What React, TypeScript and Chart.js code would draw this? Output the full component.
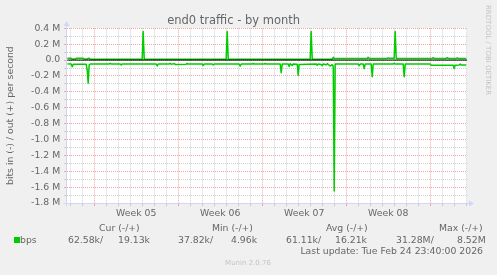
import React, { useEffect, useRef } from 'react';
import { Chart, registerables } from 'chart.js';

Chart.register(...registerables);

// ---------- text ----------
const chartTitle = 'end0 traffic - by month';
const yAxisTitle = 'bits in (-) / out (+) per second';
const weekLabels = ['Week 05', 'Week 06', 'Week 07', 'Week 08'];
const seriesName = 'bps';
const legendHeaders = ['Cur (-/+)', 'Min (-/+)', 'Avg (-/+)', 'Max (-/+)'];
const legendValues = ['62.58k/', '19.13k', '37.82k/', '4.96k', '61.11k/', '16.21k', '31.28M/', '8.52M'];
const lastUpdate = 'Last update: Tue Feb 24 23:40:00 2026';
const footer = 'Munin 2.0.76';
const watermark = 'RRDTOOL / TOBI OETIKER';

// ---------- axes (x in days from the first day grid line) ----------
const xMinDay = -0.25;
const xMaxDay = 33.083;
const weekStartDays = [2, 9, 16, 23, 30];
const weekLabelDays = [5.5, 12.5, 19.5, 26.5];
const yMinBps = -1800000;
const yMaxBps = 400000;
const yStepBps = 100000;

// ---------- series: out (+) ----------
const outDays = [
  -0.25, 0.08, 0.17, 0.42, 0.5, 1.08, 1.17, 1.42, 1.5, 1.58, 1.67,
  6.0, 6.08, 6.17, 13.0, 13.08, 13.17, 20.0, 20.08, 20.17,
  21.83, 21.92, 22.0, 24.75, 24.83, 24.92, 26.42, 26.5, 26.58,
  27.0, 27.08, 27.17, 30.17, 30.25, 30.33, 31.33, 31.42, 31.5,
  32.17, 32.25, 32.33, 33.0,
];
const outKbps = [
  22, 22, 12, 12, 22, 22, 12, 12, 22, 22, 9,
  9, 360, 9, 9, 360, 9, 9, 360, 9,
  10, 35, 20, 20, 34, 20, 20, 28, 22,
  22, 360, 21, 21, 30, 21, 21, 30, 21,
  21, 28, 21, 19.13,
];

// ---------- series: in (-) ----------
const inDays = [
  -0.25, 0.08, 0.17, 0.25, 1.33, 1.42, 1.5, 1.58, 1.67,
  3.25, 3.33, 3.42, 4.17, 4.25, 4.33, 7.17, 7.25, 7.33,
  8.25, 8.33, 8.42, 8.67, 8.75, 9.67, 9.75, 9.83,
  11.0, 11.08, 11.17, 11.83, 11.92, 12.0, 14.08, 14.17, 14.25,
  15.17, 15.25, 15.33, 16.17, 16.25, 16.33, 17.5, 17.58, 17.67,
  18.17, 18.25, 18.33, 18.5, 18.58, 18.92, 19.0, 19.08,
  20.5, 20.58, 20.67, 20.92, 21.0, 21.08, 21.33, 21.42, 21.67, 21.83, 21.92,
  22.0, 22.08, 24.0, 24.08, 24.17, 24.42, 24.5, 24.58, 25.08, 25.17, 25.25,
  26.92, 27.0, 27.08, 27.75, 27.83, 27.92, 30.0, 30.08,
  31.92, 32.0, 32.08, 32.42, 32.5, 32.58, 33.0,
];
const inKbps = [
  -48, -50, -85, -52, -52, -130, -290, -60, -50,
  -50, -40, -50, -50, -62, -50, -50, -75, -50,
  -50, -40, -52, -45, -55, -52, -42, -50,
  -50, -68, -50, -50, -62, -50, -50, -75, -50,
  -50, -42, -50, -50, -42, -50, -50, -160, -50,
  -50, -80, -45, -68, -50, -52, -190, -55,
  -50, -65, -50, -55, -70, -50, -60, -45, -75, -58, -80,
  -1650, -50, -50, -70, -50, -50, -107, -50, -50, -210, -50,
  -50, -40, -50, -50, -210, -50, -50, -65,
  -65, -107, -65, -62, -50, -62, -62.58,
];

const FONT = '"DejaVu Sans", sans-serif';
const TEXT = '#666666';
const GRID = 'rgba(143,143,143,0.42)';
const MGRID = 'rgba(222,79,79,0.5)';
const AXIS = '#cfd6f8';
const GREEN = '#00cc00';
const BACK = '#f0f0f0';

export default function App() {
  const ref = useRef<HTMLCanvasElement>(null);

  useEffect(() => {
    const canvas = ref.current;
    if (!canvas) return;

    const isWeek = (v: number) => weekStartDays.some((w) => Math.abs(w - v) < 1e-6);
    const isMajorY = (v: number) => Math.abs(Math.round(v / yStepBps)) % 2 === 0;
    const fmtY = (v: number) => {
      const s = Math.round(v / yStepBps);
      if (s % 2 !== 0) return '';
      if (s === 0) return '0.0';
      return (s / 10).toFixed(1) + ' M';
    };

    const decor = {
      id: 'muninDecor',
      beforeDraw(chart: any) {
        const { ctx, chartArea: a } = chart;
        ctx.save();
        ctx.fillStyle = BACK;
        ctx.fillRect(0, 0, chart.width, chart.height);
        ctx.fillStyle = '#ffffff';
        ctx.fillRect(Math.round(a.left), Math.round(a.top), Math.round(a.right - a.left), Math.round(a.bottom - a.top));
        ctx.restore();
      },
      afterDraw(chart: any) {
        const { ctx, chartArea: a } = chart;
        ctx.save();
        // axes with arrows
        const ax = Math.floor(a.left) - 0.5;
        const ay = Math.round(a.bottom) + 0.5;
        const ar = Math.round(a.right);
        const at = Math.round(a.top);
        ctx.strokeStyle = AXIS;
        ctx.fillStyle = AXIS;
        ctx.lineWidth = 1;
        ctx.beginPath();
        ctx.moveTo(ax - 3, ay);
        ctx.lineTo(ar + 3, ay);
        ctx.moveTo(ax, ay + 3);
        ctx.lineTo(ax, at - 3);
        ctx.stroke();
        ctx.beginPath();
        ctx.moveTo(ar + 2, ay - 3);
        ctx.lineTo(ar + 7, ay);
        ctx.lineTo(ar + 2, ay + 3);
        ctx.closePath();
        ctx.fill();
        ctx.beginPath();
        ctx.moveTo(ax - 3, at - 2);
        ctx.lineTo(ax, at - 7);
        ctx.lineTo(ax + 3, at - 2);
        ctx.closePath();
        ctx.fill();

        // legend
        ctx.font = `9.3px ${FONT}`;
        ctx.fillStyle = TEXT;
        ctx.textBaseline = 'alphabetic';
        ctx.textAlign = 'left';
        const headerX = [99, 212, 326, 439];
        legendHeaders.forEach((h, i) => ctx.fillText(h, headerX[i], 231));
        const valueX = [68, 118, 178, 231, 286, 335, 396, 457];
        legendValues.forEach((v, i) => ctx.fillText(v, valueX[i], 243));
        ctx.fillText(seriesName, 20, 243);
        ctx.fillStyle = GREEN;
        ctx.fillRect(14, 237, 6, 6);
        ctx.fillStyle = TEXT;
        ctx.textAlign = 'right';
        ctx.fillText(lastUpdate, 483, 254);

        // footer + watermark
        ctx.font = `7px ${FONT}`;
        ctx.fillStyle = '#c4c4c4';
        ctx.textAlign = 'center';
        ctx.fillText(footer, 248, 265);
        ctx.translate(486, 5);
        ctx.rotate(Math.PI / 2);
        ctx.textAlign = 'left';
        ctx.textBaseline = 'middle';
        ctx.fillText(watermark, 0, -2);
        ctx.restore();
      },
    };

    const chart = new Chart(canvas, {
      type: 'line',
      data: {
        datasets: [
          {
            label: 'zero',
            data: [{ x: xMinDay, y: 0 }, { x: xMaxDay, y: 0 }],
            borderColor: '#000000',
            borderWidth: 1,
            order: 0,
          },
          {
            label: 'out',
            data: outDays.map((d, i) => ({ x: d, y: outKbps[i] * 1000 })),
            borderColor: GREEN,
            borderWidth: 1.5,
            order: 1,
          },
          {
            label: 'in',
            data: inDays.map((d, i) => ({ x: d, y: inKbps[i] * 1000 })),
            borderColor: GREEN,
            borderWidth: 1.5,
            order: 2,
          },
        ],
      },
      options: {
        responsive: false,
        devicePixelRatio: 1,
        animation: false,
        events: [],
        layout: { padding: { top: 0, left: 0, right: 29.8, bottom: 0 } },
        elements: {
          point: { radius: 0 },
          line: { tension: 0, borderJoinStyle: 'round', fill: false },
        },
        plugins: {
          legend: { display: false },
          tooltip: { enabled: false },
          title: {
            display: true,
            text: chartTitle,
            color: TEXT,
            font: { family: FONT, size: 11.5, weight: 'normal' },
            padding: { top: 14.5, bottom: 0 },
          },
        },
        scales: {
          x: {
            type: 'linear',
            position: 'bottom',
            weight: 0,
            min: xMinDay,
            max: xMaxDay,
            afterFit: (s: any) => { s.height = 4; },
            ticks: { display: false, stepSize: 1, autoSkip: false, includeBounds: false },
            grid: {
              color: (c: any) => (c.tick && isWeek(c.tick.value) ? MGRID : GRID),
              tickColor: (c: any) => (c.tick && isWeek(c.tick.value) ? MGRID : GRID),
              tickLength: 3,
              lineWidth: 1,
            },
            border: { display: false, dash: [1, 1] },
          },
          xw: {
            type: 'linear',
            position: 'bottom',
            weight: 1,
            min: xMinDay,
            max: xMaxDay,
            afterFit: (s: any) => { s.height = 68; },
            afterBuildTicks: (s: any) => { s.ticks = weekLabelDays.map((v) => ({ value: v })); },
            ticks: {
              autoSkip: false,
              maxRotation: 0,
              callback: (_v: any, i: number) => weekLabels[i] ?? '',
              color: TEXT,
              font: { family: FONT, size: 9.3 },
              padding: 1.3,
            },
            grid: { display: false, drawTicks: false },
            border: { display: false },
          },
          y: {
            type: 'linear',
            min: yMinBps,
            max: yMaxBps,
            afterFit: (s: any) => { s.width = 67.2; },
            ticks: {
              stepSize: yStepBps,
              autoSkip: false,
              callback: (v: any) => fmtY(Number(v)),
              color: TEXT,
              font: { family: FONT, size: 9.3 },
              padding: 4,
            },
            grid: {
              color: (c: any) => (c.tick && isMajorY(c.tick.value) ? MGRID : GRID),
              tickColor: (c: any) => (c.tick && isMajorY(c.tick.value) ? MGRID : GRID),
              tickLength: 3,
              lineWidth: 1,
            },
            border: { display: false, dash: [1, 1] },
            title: {
              display: true,
              text: yAxisTitle,
              color: TEXT,
              font: { family: FONT, size: 9.3 },
              padding: { top: 5, bottom: 0 },
            },
          },
        },
      },
      plugins: [decor],
    } as any);

    return () => chart.destroy();
  }, []);

  return (
    <div style={{ position: 'fixed', left: 0, top: 0, width: 497, height: 275 }}>
      <canvas ref={ref} width={497} height={275} style={{ display: 'block', width: 497, height: 275 }} />
    </div>
  );
}
